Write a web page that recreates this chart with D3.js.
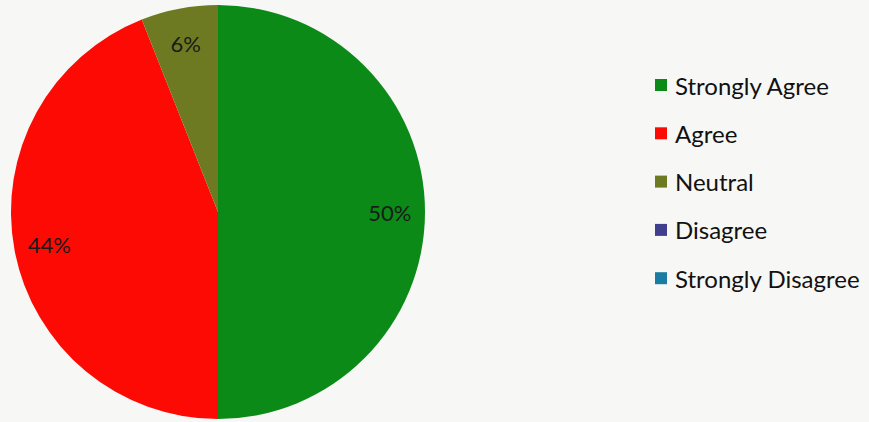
<!DOCTYPE html>
<html>
<head>
<meta charset="utf-8">
<script src="https://cdn.jsdelivr.net/npm/d3@7/dist/d3.min.js"></script>
<style>
  html, body { margin: 0; padding: 0; background: #f7f7f5; }
  svg { display: block; }
</style>
</head>
<body>
<svg id="chart" width="869" height="422"></svg>
<script>
// Survey response shares
const categories = ["Strongly Agree", "Agree", "Neutral", "Disagree", "Strongly Disagree"];
const values = [50, 44, 6, 0, 0];
const colors = ["#0b8a17", "#fe0a05", "#6e7a22", "#3f3f8c", "#1b7ca3"];

const svg = d3.select("#chart");
const cx = 218, cy = 212, R = 207;
const fontFamily = "Lato, 'Open Sans', sans-serif";

const data = categories.map((c, i) => ({ name: c, value: values[i], color: colors[i] }));

const pie = d3.pie().sort(null).value(d => d.value);
const arc = d3.arc().innerRadius(0).outerRadius(R);
const labelArc = d3.arc().innerRadius(R * 0.83).outerRadius(R * 0.83);

const g = svg.append("g").attr("transform", `translate(${cx},${cy})`);
const arcs = pie(data).filter(d => d.data.value > 0);

g.selectAll("path.slice")
  .data(arcs)
  .join("path")
  .attr("class", "slice")
  .attr("d", arc)
  .attr("fill", d => d.data.color);

g.selectAll("text.pct")
  .data(arcs)
  .join("text")
  .attr("class", "pct")
  .attr("transform", d => `translate(${labelArc.centroid(d)})`)
  .attr("text-anchor", "middle")
  .attr("dominant-baseline", "central")
  .attr("font-family", fontFamily)
  .attr("font-size", 22)
  .attr("fill", "#1a1a1a")
  .text(d => d.data.value + "%");

// Legend
const legend = svg.append("g").attr("transform", "translate(655,85)");
const rowStep = 48.3;
const rows = legend.selectAll("g.row")
  .data(data)
  .join("g")
  .attr("class", "row")
  .attr("transform", (d, i) => `translate(0,${i * rowStep})`);

rows.append("rect")
  .attr("x", 0).attr("y", -6)
  .attr("width", 12).attr("height", 12)
  .attr("fill", d => d.color);

rows.append("text")
  .attr("x", 20).attr("y", 0)
  .attr("dominant-baseline", "central")
  .attr("font-family", fontFamily)
  .attr("font-size", 24)
  .attr("fill", "#111")
  .text(d => d.name);
</script>
</body>
</html>
